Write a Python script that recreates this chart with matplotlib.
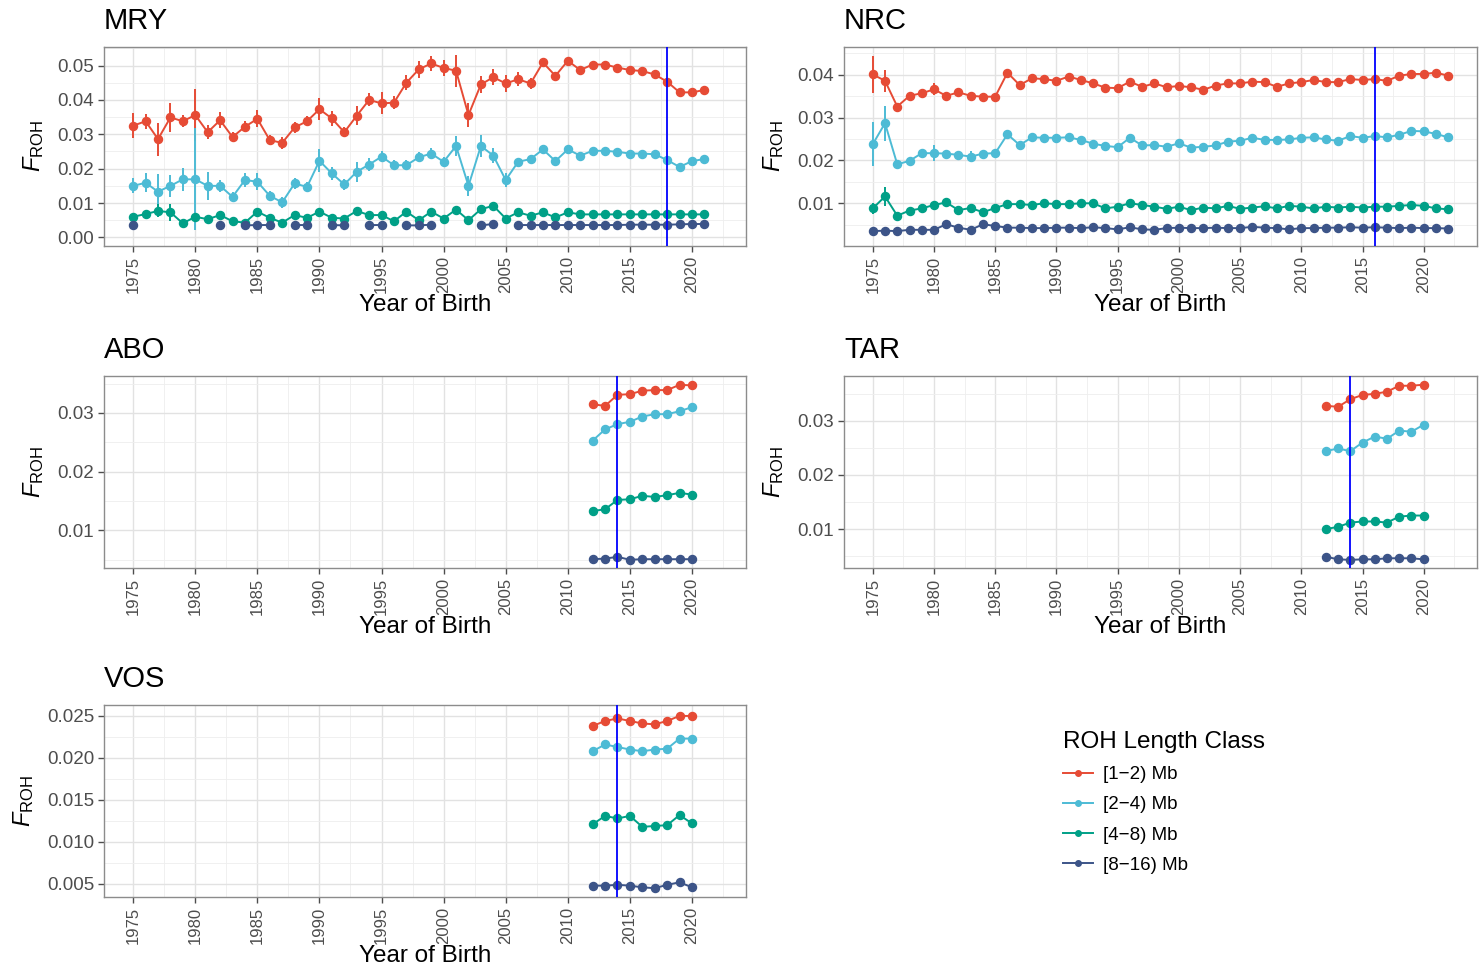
import numpy as np
import matplotlib
matplotlib.use("Agg")
import matplotlib.pyplot as plt
from matplotlib.lines import Line2D
from matplotlib.ticker import MultipleLocator, FormatStrFormatter

plt.rcParams['font.family'] = ['Liberation Sans', 'DejaVu Sans']
plt.rcParams['mathtext.fontset'] = 'custom'
plt.rcParams['mathtext.rm'] = 'Liberation Sans'
plt.rcParams['mathtext.it'] = 'Liberation Sans:italic'

nan = np.nan

# classes and colours (npg palette)
classes = ["[1\u22122) Mb", "[2\u22124) Mb", "[4\u22128) Mb", "[8\u221216) Mb"]
colors = ["#E64B35", "#4DBBD5", "#00A087", "#3C5488"]

# ---------------- MRY ----------------
mry_years = list(range(1975, 2022))
mry_f12 = [0.0325, 0.0338, 0.0286, 0.0349, 0.0338, 0.0356, 0.0306, 0.0341, 0.0292, 0.0322,
           0.0345, 0.0283, 0.0275, 0.0320, 0.0338, 0.0373, 0.0346, 0.0306, 0.0354, 0.0400,
           0.0390, 0.0392, 0.0450, 0.0489, 0.0506, 0.0493, 0.0485, 0.0356, 0.0445, 0.0466,
           0.0448, 0.0460, 0.0448, 0.0509, 0.0470, 0.0514, 0.0487, 0.0503, 0.0503, 0.0494,
           0.0487, 0.0484, 0.0474, 0.0453, 0.0422, 0.0422, 0.0429]
mry_f24 = [0.0150, 0.0159, 0.0133, 0.0150, 0.0169, 0.0169, 0.0150, 0.0150, 0.0118, 0.0167,
           0.0162, 0.0121, 0.0102, 0.0157, 0.0147, 0.0223, 0.0186, 0.0154, 0.0191, 0.0212,
           0.0235, 0.0210, 0.0210, 0.0233, 0.0244, 0.0220, 0.0266, 0.0150, 0.0266, 0.0238,
           0.0167, 0.0220, 0.0228, 0.0256, 0.0222, 0.0256, 0.0238, 0.0252, 0.0252, 0.0249,
           0.0244, 0.0244, 0.0242, 0.0225, 0.0205, 0.0222, 0.0228]
mry_f48 = [0.0060, 0.0068, 0.0077, 0.0073, 0.0041, 0.0060, 0.0053, 0.0065, 0.0047, 0.0043,
           0.0075, 0.0057, 0.0043, 0.0065, 0.0057, 0.0075, 0.0057, 0.0055, 0.0077, 0.0065,
           0.0065, 0.0047, 0.0075, 0.0050, 0.0075, 0.0055, 0.0081, 0.0050, 0.0082, 0.0092,
           0.0055, 0.0073, 0.0063, 0.0073, 0.0058, 0.0073, 0.0067, 0.0067, 0.0067, 0.0067,
           0.0067, 0.0067, 0.0067, 0.0067, 0.0067, 0.0067, 0.0067]
mry_f816 = [0.0036, nan, nan, nan, nan, nan, nan, 0.0036, nan, 0.0035,
            0.0036, 0.0036, nan, 0.0036, 0.0036, nan, 0.0036, 0.0035, nan, 0.0036,
            0.0036, nan, 0.0035, 0.0035, 0.0037, nan, nan, nan, 0.0035, 0.0039,
            nan, 0.0036, 0.0036, 0.0036, 0.0036, 0.0036, 0.0036, 0.0036, 0.0036, 0.0036,
            0.0037, 0.0037, 0.0037, 0.0037, 0.0038, 0.0039, 0.0039]
mry_se12 = [0.0037, 0.0022, 0.0048, 0.0042, 0.0018, 0.0075, 0.0021, 0.0024, 0.0015, 0.0016,
            0.0025, 0.0015, 0.0017, 0.0017, 0.0015, 0.0032, 0.0021, 0.0015, 0.0028, 0.0019,
            0.0032, 0.0019, 0.0022, 0.0024, 0.0022, 0.0023, 0.0046, 0.0036, 0.0024, 0.0024,
            0.0024, 0.0020, 0.0015, 0.0008, 0.0008, 0.0006, 0.0006, 0.0006, 0.0006, 0.0006,
            0.0006, 0.0006, 0.0006, 0.0006, 0.0006, 0.0006, 0.0006]
mry_se24 = [0.0022, 0.0027, 0.0051, 0.0032, 0.0034, 0.0148, 0.0040, 0.0017, 0.0015, 0.0019,
            0.0024, 0.0015, 0.0015, 0.0015, 0.0015, 0.0034, 0.0019, 0.0015, 0.0029, 0.0018,
            0.0016, 0.0015, 0.0015, 0.0015, 0.0017, 0.0015, 0.0029, 0.0029, 0.0032, 0.0022,
            0.0019, 0.0008, 0.0008, 0.0006, 0.0006, 0.0006, 0.0006, 0.0006, 0.0006, 0.0006,
            0.0006, 0.0006, 0.0006, 0.0006, 0.0006, 0.0006, 0.0006]
mry_se48 = [0.0010, 0.0010, 0.0019, 0.0024, 0.0008, 0.0010, 0.0008, 0.0008, 0.0008, 0.0008,
            0.0012, 0.0008, 0.0008, 0.0008, 0.0008, 0.0010, 0.0008, 0.0008, 0.0008, 0.0008,
            0.0008, 0.0008, 0.0008, 0.0008, 0.0008, 0.0008, 0.0010, 0.0008, 0.0010, 0.0010,
            0.0008, 0.0005, 0.0005, 0.0004, 0.0004, 0.0004, 0.0004, 0.0004, 0.0004, 0.0004,
            0.0004, 0.0004, 0.0004, 0.0004, 0.0004, 0.0004, 0.0004]

# ---------------- NRC ----------------
nrc_years = list(range(1975, 2023))
nrc_f12 = [0.0401, 0.0386, 0.0326, 0.0351, 0.0357, 0.0366, 0.0351, 0.0359, 0.0351, 0.0349,
           0.0349, 0.0405, 0.0376, 0.0392, 0.0390, 0.0386, 0.0396, 0.0388, 0.0380, 0.0370,
           0.0369, 0.0384, 0.0372, 0.0380, 0.0371, 0.0374, 0.0371, 0.0365, 0.0375, 0.0380,
           0.0380, 0.0384, 0.0383, 0.0372, 0.0380, 0.0383, 0.0388, 0.0383, 0.0383, 0.0390,
           0.0388, 0.0390, 0.0386, 0.0398, 0.0402, 0.0402, 0.0405, 0.0398]
nrc_f24 = [0.0238, 0.0287, 0.0191, 0.0199, 0.0217, 0.0217, 0.0216, 0.0213, 0.0209, 0.0216,
           0.0217, 0.0261, 0.0236, 0.0254, 0.0253, 0.0253, 0.0254, 0.0248, 0.0239, 0.0234,
           0.0231, 0.0253, 0.0235, 0.0236, 0.0232, 0.0240, 0.0230, 0.0232, 0.0235, 0.0244,
           0.0246, 0.0253, 0.0248, 0.0248, 0.0249, 0.0253, 0.0254, 0.0249, 0.0246, 0.0257,
           0.0253, 0.0257, 0.0254, 0.0260, 0.0269, 0.0268, 0.0262, 0.0254]
nrc_f48 = [0.0088, 0.0116, 0.0071, 0.0083, 0.0088, 0.0096, 0.0102, 0.0084, 0.0089, 0.0079,
           0.0089, 0.0098, 0.0098, 0.0096, 0.0100, 0.0098, 0.0098, 0.0100, 0.0100, 0.0088,
           0.0092, 0.0100, 0.0096, 0.0092, 0.0087, 0.0092, 0.0084, 0.0090, 0.0088, 0.0094,
           0.0087, 0.0090, 0.0093, 0.0088, 0.0094, 0.0092, 0.0088, 0.0092, 0.0090, 0.0092,
           0.0090, 0.0092, 0.0092, 0.0094, 0.0096, 0.0094, 0.0088, 0.0086]
nrc_f816 = [0.0035, 0.0036, 0.0035, 0.0038, 0.0038, 0.0038, 0.0051, 0.0043, 0.0038, 0.0051,
            0.0047, 0.0043, 0.0043, 0.0042, 0.0042, 0.0043, 0.0043, 0.0042, 0.0044, 0.0042,
            0.0039, 0.0044, 0.0039, 0.0038, 0.0042, 0.0043, 0.0042, 0.0042, 0.0043, 0.0042,
            0.0042, 0.0045, 0.0043, 0.0042, 0.0039, 0.0042, 0.0042, 0.0043, 0.0043, 0.0044,
            0.0043, 0.0044, 0.0043, 0.0042, 0.0043, 0.0042, 0.0042, 0.0041]
nrc_se12 = [0.0043, 0.0025, 0.0008, 0.0008, 0.0008, 0.0014, 0.0008, 0.0008, 0.0008, 0.0008,
            0.0008, 0.0006, 0.0006, 0.0006, 0.0006, 0.0006, 0.0006, 0.0006, 0.0006, 0.0006,
            0.0006, 0.0006, 0.0006, 0.0006, 0.0006, 0.0006, 0.0006, 0.0006, 0.0006, 0.0006,
            0.0005, 0.0005, 0.0005, 0.0005, 0.0005, 0.0005, 0.0005, 0.0005, 0.0005, 0.0005,
            0.0005, 0.0005, 0.0005, 0.0005, 0.0005, 0.0005, 0.0005, 0.0005]
nrc_se24 = [0.0051, 0.0041, 0.0010, 0.0008, 0.0008, 0.0018, 0.0008, 0.0008, 0.0012, 0.0008,
            0.0008, 0.0006, 0.0006, 0.0006, 0.0006, 0.0006, 0.0006, 0.0006, 0.0006, 0.0006,
            0.0006, 0.0006, 0.0006, 0.0006, 0.0006, 0.0006, 0.0006, 0.0006, 0.0006, 0.0006,
            0.0005, 0.0005, 0.0005, 0.0005, 0.0005, 0.0005, 0.0005, 0.0005, 0.0005, 0.0005,
            0.0005, 0.0005, 0.0005, 0.0005, 0.0005, 0.0005, 0.0005, 0.0005]
nrc_se48 = [0.0012, 0.0023, 0.0006, 0.0005, 0.0005, 0.0005, 0.0005, 0.0005, 0.0005, 0.0005,
            0.0005, 0.0004, 0.0004, 0.0004, 0.0004, 0.0004, 0.0004, 0.0004, 0.0004, 0.0004,
            0.0004, 0.0004, 0.0004, 0.0004, 0.0004, 0.0004, 0.0004, 0.0004, 0.0004, 0.0004,
            0.0004, 0.0004, 0.0004, 0.0004, 0.0004, 0.0004, 0.0004, 0.0004, 0.0004, 0.0004,
            0.0004, 0.0004, 0.0004, 0.0004, 0.0004, 0.0004, 0.0004, 0.0004]

# ---------------- ABO / TAR / VOS ----------------
recent_years = list(range(2012, 2021))
abo_f12 = [0.0315, 0.0312, 0.0331, 0.0332, 0.0338, 0.0339, 0.0339, 0.0348, 0.0347]
abo_f24 = [0.0253, 0.0272, 0.0281, 0.0285, 0.0294, 0.0298, 0.0298, 0.0303, 0.0310]
abo_f48 = [0.0133, 0.0136, 0.0152, 0.0153, 0.0159, 0.0157, 0.0160, 0.0164, 0.0161]
abo_f816 = [0.0051, 0.0052, 0.0055, 0.0050, 0.0051, 0.0051, 0.0051, 0.0051, 0.0051]

tar_f12 = [0.0328, 0.0326, 0.0340, 0.0348, 0.0350, 0.0354, 0.0365, 0.0365, 0.0367]
tar_f24 = [0.0244, 0.0249, 0.0244, 0.0260, 0.0271, 0.0267, 0.0282, 0.0280, 0.0293]
tar_f48 = [0.0100, 0.0104, 0.0112, 0.0114, 0.0114, 0.0112, 0.0123, 0.0125, 0.0125]
tar_f816 = [0.0049, 0.0044, 0.0043, 0.0044, 0.0044, 0.0046, 0.0046, 0.0046, 0.0044]

vos_f12 = [0.0238, 0.0244, 0.0247, 0.0244, 0.0241, 0.0240, 0.0244, 0.0250, 0.0250]
vos_f24 = [0.0208, 0.0216, 0.0213, 0.0210, 0.0208, 0.0210, 0.0211, 0.0223, 0.0223]
vos_f48 = [0.0121, 0.0131, 0.0128, 0.0131, 0.0118, 0.0119, 0.0120, 0.0132, 0.0122]
vos_f816 = [0.0048, 0.0048, 0.0049, 0.0048, 0.0046, 0.0045, 0.0049, 0.0052, 0.0046]

# reference year (blue line) per population
vline_year = {"MRY": 2018, "NRC": 2016, "ABO": 2014, "TAR": 2014, "VOS": 2014}

W, H = 1483, 975
fig = plt.figure(figsize=(W / 100, H / 100), dpi=100)


def px_axes(left, top, right, bottom):
    return fig.add_axes([left / W, 1 - bottom / H, (right - left) / W, (bottom - top) / H])


def draw_panel(ax, name, years, series, ses, ylim, yticks, yfmt):
    for i, vals in enumerate(series):
        vals = np.array(vals, dtype=float)
        if ses is not None:
            se = np.array(ses[i], dtype=float)
            ax.vlines(years, vals - se, vals + se, color=colors[i], lw=1.4, zorder=3)
        ax.plot(years, vals, color=colors[i], lw=1.4, marker='o', markersize=5.8, zorder=4)
    ax.axvline(vline_year[name], color="#0000FF", lw=1.3, zorder=5)

    ax.set_xlim(1972.65, 2024.35)
    ax.set_ylim(*ylim)
    ax.set_xticks(list(range(1975, 2021, 5)))
    ax.xaxis.set_minor_locator(MultipleLocator(2.5))
    ax.set_yticks(yticks)
    ax.yaxis.set_major_formatter(FormatStrFormatter(yfmt))
    step = yticks[1] - yticks[0]
    ax.yaxis.set_minor_locator(MultipleLocator(step / 2))
    ax.tick_params(axis='x', which='major', labelrotation=90, labelsize=12,
                   colors="#4D4D4D", length=4, width=1, pad=3)
    ax.tick_params(axis='y', which='major', labelsize=13.5, colors="#4D4D4D",
                   length=4, width=1, pad=3)
    ax.tick_params(which='minor', length=0)
    ax.grid(which='major', color="#E2E2E2", lw=1.0, zorder=0)
    ax.grid(which='minor', color="#EEEEEE", lw=0.6, zorder=0)
    ax.set_axisbelow(True)
    for s in ax.spines.values():
        s.set_color("#8C8C8C")
        s.set_linewidth(1.0)
    ax.set_title(name, loc='left', fontsize=21, pad=13)
    ax.set_xlabel("Year of Birth", fontsize=17.5, labelpad=1)
    ax.set_ylabel(r"$F_{\mathrm{ROH}}$", fontsize=17, labelpad=8)


ax_mry = px_axes(104, 47, 746, 246)
draw_panel(ax_mry, "MRY", mry_years, [mry_f12, mry_f24, mry_f48, mry_f816],
           [mry_se12, mry_se24, mry_se48, [0.0004] * len(mry_years)],
           (-0.0025, 0.0554), [0.00, 0.01, 0.02, 0.03, 0.04, 0.05], '%.2f')

ax_nrc = px_axes(844, 47, 1477, 246)
draw_panel(ax_nrc, "NRC", nrc_years, [nrc_f12, nrc_f24, nrc_f48, nrc_f816],
           [nrc_se12, nrc_se24, nrc_se48, [0.0004] * len(nrc_years)],
           (0.00002, 0.0465), [0.01, 0.02, 0.03, 0.04], '%.2f')

ax_abo = px_axes(104, 376, 746, 568)
draw_panel(ax_abo, "ABO", recent_years, [abo_f12, abo_f24, abo_f48, abo_f816], None,
           (0.0036, 0.0363), [0.01, 0.02, 0.03], '%.2f')

ax_tar = px_axes(844, 376, 1477, 568)
draw_panel(ax_tar, "TAR", recent_years, [tar_f12, tar_f24, tar_f48, tar_f816], None,
           (0.0028, 0.0383), [0.01, 0.02, 0.03], '%.2f')

ax_vos = px_axes(104, 705, 746, 897)
draw_panel(ax_vos, "VOS", recent_years, [vos_f12, vos_f24, vos_f48, vos_f816], None,
           (0.00345, 0.0263), [0.005, 0.010, 0.015, 0.020, 0.025], '%.3f')

handles = [Line2D([], [], color=c, lw=1.4, marker='o', markersize=4) for c in colors]
leg = fig.legend(handles, classes, title="ROH Length Class", loc='upper left',
                 bbox_to_anchor=(1046 / W, 1 - 714 / H), frameon=False,
                 fontsize=13.5, title_fontsize=17.5, handlelength=1.6,
                 labelspacing=0.7, handletextpad=0.55, alignment='left')

fig.savefig("out.png", dpi=100)
